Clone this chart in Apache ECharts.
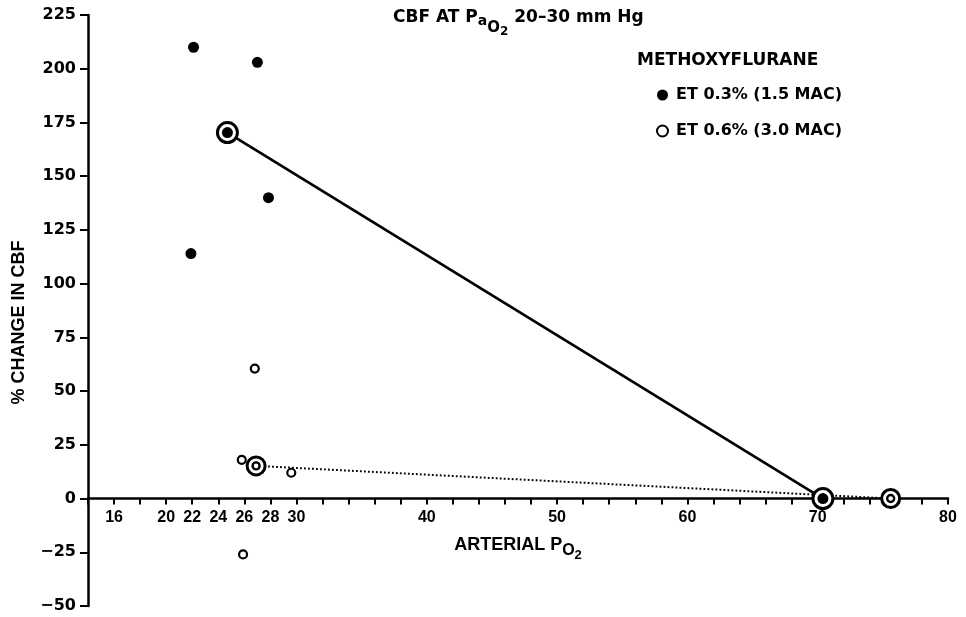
<!DOCTYPE html>
<html>
<head>
<meta charset="utf-8">
<title>CBF at PaO2 20-30 mm Hg</title>
<script src="https://cdn.jsdelivr.net/npm/echarts@6/dist/echarts.min.js"></script>
<style>
  html, body { margin: 0; padding: 0; background: #fff; }
  #chart { width: 966px; height: 617px; }
</style>
</head>
<body>
<div id="chart"></div>
<script>
// values
const filledX = [22.1, 27.0, 27.85, 21.9]
const filledY = [210, 203, 140, 114]
const openX = [26.8, 25.8, 29.6, 25.9]
const openY = [60.5, 18, 12, -26]
// group means joined by the regression lines
const filledMeanX = [24.7, 70.4]
const filledMeanY = [170.3, 0]
const openMeanX = [26.9, 75.6]
const openMeanY = [15.2, 0]
// x labels actually printed on the axis
const xTickLabels = [16, 20, 22, 24, 26, 28, 30, 40, 50, 60, 70, 80]

const zip = (xs, ys) => xs.map((x, i) => [x, ys[i]])

const wide = 'DejaVu Sans'
const narrow = '"Liberation Sans Narrow", "Liberation Sans"'
const plain = '"Liberation Sans", Arial'

const Y_MIN = -50
const Y_MAX = 225
const GRID_TOP = 15
const GRID_BOTTOM = 11
const CHART_H = 617
// the x axis sits on y = 0, so lift it (with its labels) from the grid bottom
const gridH = CHART_H - GRID_TOP - GRID_BOTTOM
const xAxisOffset = -gridH * (0 - Y_MIN) / (Y_MAX - Y_MIN)

const chart = echarts.init(document.getElementById('chart'))

const option = {
  animation: false,
  backgroundColor: '#fff',
  title: [
    {
      text: '{t|CBF AT P}{a|a}{o|O}{n|2}{t| 20–30 mm Hg}',
      left: 393,
      top: 8,
      padding: 0,
      textStyle: {
        rich: {
          t: { fontFamily: wide, fontWeight: 'bold', fontSize: 17, color: '#000', height: 20, verticalAlign: 'top' },
          a: { fontFamily: wide, fontWeight: 'bold', fontSize: 14, color: '#000', height: 27, verticalAlign: 'top' },
          o: { fontFamily: wide, fontWeight: 'bold', fontSize: 15, color: '#000', height: 40, verticalAlign: 'top' },
          n: { fontFamily: wide, fontWeight: 'bold', fontSize: 12, color: '#000', height: 48, verticalAlign: 'top' }
        }
      }
    },
    {
      text: 'METHOXYFLURANE',
      left: 637,
      top: 52,
      padding: 0,
      textStyle: { fontFamily: wide, fontWeight: 'bold', fontSize: 17, color: '#000' }
    }
  ],
  legend: {
    data: ['ET 0.3% (1.5 MAC)', 'ET 0.6% (3.0 MAC)'],
    orient: 'vertical',
    left: 656,
    top: 86,
    padding: 0,
    itemWidth: 11,
    itemHeight: 11,
    itemGap: 18,
    textStyle: {
      fontFamily: wide,
      fontWeight: 'bold',
      fontSize: 16,
      color: '#000',
      lineHeight: 18,
      padding: [0, 0, 0, 3]
    }
  },
  grid: {
    left: 88,
    right: 18,
    top: GRID_TOP,
    bottom: GRID_BOTTOM,
    containLabel: false,
    outerBoundsMode: 'none'
  },
  xAxis: {
    type: 'value',
    min: 14,
    max: 80,
    interval: 2,
    offset: xAxisOffset,
    name: '{t|ARTERIAL P}{o|O}{n|2}',
    nameLocation: 'middle',
    nameGap: 36,
    nameTextStyle: {
      rich: {
        t: { fontFamily: narrow, fontWeight: 'bold', fontSize: 18, color: '#000', height: 20, verticalAlign: 'top' },
        o: { fontFamily: narrow, fontWeight: 'bold', fontSize: 16, color: '#000', height: 32, verticalAlign: 'top' },
        n: { fontFamily: narrow, fontWeight: 'bold', fontSize: 13, color: '#000', height: 42, verticalAlign: 'top' }
      }
    },
    axisLine: { onZero: false, lineStyle: { color: '#000', width: 2.5 } },
    axisTick: { show: true, length: 6, lineStyle: { color: '#000', width: 2 } },
    axisLabel: {
      margin: 11,
      fontFamily: narrow,
      fontWeight: 'bold',
      fontSize: 16,
      color: '#000',
      formatter: v => (xTickLabels.includes(v) ? String(v) : '')
    },
    splitLine: { show: false }
  },
  yAxis: {
    type: 'value',
    min: Y_MIN,
    max: Y_MAX,
    interval: 25,
    name: '% CHANGE IN CBF',
    nameLocation: 'middle',
    nameGap: 60,
    nameRotate: 90,
    nameTextStyle: {
      fontFamily: plain,
      fontWeight: 'bold',
      fontSize: 18,
      color: '#000',
      padding: [0, 24, 0, 0]
    },
    axisLine: { onZero: false, lineStyle: { color: '#000', width: 2.5 } },
    axisTick: { show: true, length: 8, lineStyle: { color: '#000', width: 2 } },
    axisLabel: {
      margin: 12,
      fontFamily: wide,
      fontWeight: 'bold',
      fontSize: 16,
      color: '#000',
      formatter: v => String(v).replace('-', '−')
    },
    splitLine: { show: false }
  },
  series: [
    {
      type: 'line',
      data: zip(filledMeanX, filledMeanY),
      symbol: 'none',
      lineStyle: { color: '#000', width: 2.7, type: 'solid' },
      z: 2
    },
    {
      type: 'line',
      data: zip(openMeanX, openMeanY),
      symbol: 'none',
      lineStyle: { color: '#000', width: 2, type: [1.8, 2.2] },
      z: 2
    },
    {
      // rings round the group means
      type: 'scatter',
      data: zip(filledMeanX, filledMeanY),
      symbol: 'circle',
      symbolSize: 20,
      itemStyle: { color: '#fff', borderColor: '#000', borderWidth: 3, opacity: 1 },
      z: 3
    },
    {
      type: 'scatter',
      data: zip(openMeanX, openMeanY),
      symbol: 'circle',
      symbolSize: 18,
      itemStyle: { color: '#fff', borderColor: '#000', borderWidth: 3, opacity: 1 },
      z: 3
    },
    {
      type: 'scatter',
      data: zip(filledMeanX, filledMeanY),
      symbol: 'circle',
      symbolSize: 11,
      itemStyle: { color: '#000', opacity: 1 },
      z: 4
    },
    {
      type: 'scatter',
      data: zip(openMeanX, openMeanY),
      symbol: 'circle',
      symbolSize: 7,
      itemStyle: { color: '#fff', borderColor: '#000', borderWidth: 2.4, opacity: 1 },
      z: 4
    },
    {
      name: 'ET 0.3% (1.5 MAC)',
      type: 'scatter',
      data: zip(filledX, filledY),
      symbol: 'circle',
      symbolSize: 11,
      itemStyle: { color: '#000', opacity: 1 },
      z: 4
    },
    {
      name: 'ET 0.6% (3.0 MAC)',
      type: 'scatter',
      data: zip(openX, openY),
      symbol: 'circle',
      symbolSize: 8,
      itemStyle: { color: '#fff', borderColor: '#000', borderWidth: 2.2, opacity: 1 },
      z: 4
    }
  ]
}

chart.setOption(option)

window.addEventListener('resize', () => chart.resize())
</script>
</body>
</html>
